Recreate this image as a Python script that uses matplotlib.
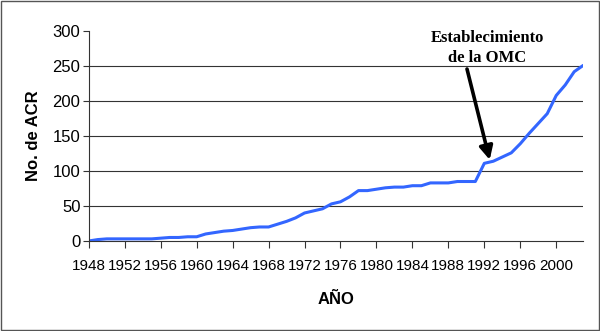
import matplotlib.pyplot as plt
from matplotlib.patches import Rectangle

# años y número de acuerdos comerciales regionales (ACR)
anios = list(range(1948, 2004))
acr = [0, 2, 3, 3, 3, 3, 3, 3, 4, 5,
       5, 6, 6, 10, 12, 14, 15, 17, 19, 20,
       20, 24, 28, 33, 40, 43, 46, 53, 56, 63,
       72, 72, 74, 76, 77, 77, 79, 79, 83, 83,
       83, 85, 85, 85, 111, 114, 120, 126, 139, 154,
       168, 182, 208, 223, 242, 251]

ticks_x = list(range(1948, 2004, 4))
ticks_y = [0, 50, 100, 150, 200, 250, 300]

fig = plt.figure(figsize=(6, 3.31), dpi=100)
ax = fig.add_axes([0.148, 0.272, 0.824, 0.634])

ax.plot(anios, acr, color="#3366FF", linewidth=2.2, solid_capstyle="round")

ax.set_xlim(1948, 2003)
ax.set_ylim(0, 300)
ax.set_xticks(ticks_x)
ax.set_yticks(ticks_y)

for v in ticks_y[1:-1]:
    ax.axhline(v, color="#333333", linewidth=0.8, zorder=0)

for s in ["top", "right"]:
    ax.spines[s].set_visible(False)
for s in ["left", "bottom"]:
    ax.spines[s].set_color("#333333")
    ax.spines[s].set_linewidth(0.8)

ax.tick_params(axis="x", length=5, width=0.8, color="#333333", pad=8,
               labelsize=11)
ax.tick_params(axis="y", length=4, width=0.8, color="#333333", pad=2,
               labelsize=12)
for lab in ax.get_xticklabels() + ax.get_yticklabels():
    lab.set_family("Liberation Sans")

ax.set_ylabel("No. de ACR", fontsize=12, fontweight="bold",
              family="Liberation Sans")
ax.yaxis.set_label_coords(-0.097, 0.5)
ax.set_xlabel("AÑO", fontsize=12, fontweight="bold",
              family="Liberation Sans")
ax.xaxis.set_label_coords(0.5, -0.245)

ax.text(487 / 600, 1 - 48 / 331, "Establecimiento\nde la OMC",
        transform=fig.transFigure, ha="center", va="center",
        fontsize=12, fontweight="bold", family="Liberation Serif",
        linespacing=1.35)

ax.annotate("", xy=(1992.6, 116), xycoords="data",
            xytext=(467 / 600, 1 - 69 / 331), textcoords="figure fraction",
            arrowprops=dict(arrowstyle="-|>,head_length=0.8,head_width=0.4",
                            color="black", lw=2.6,
                            shrinkA=0, shrinkB=0))

fig.patches.append(Rectangle((0.002, 0.003), 0.996, 0.994,
                             transform=fig.transFigure, fill=False,
                             edgecolor="#555555", linewidth=1))

plt.savefig("out.png", dpi=100)
plt.close()
